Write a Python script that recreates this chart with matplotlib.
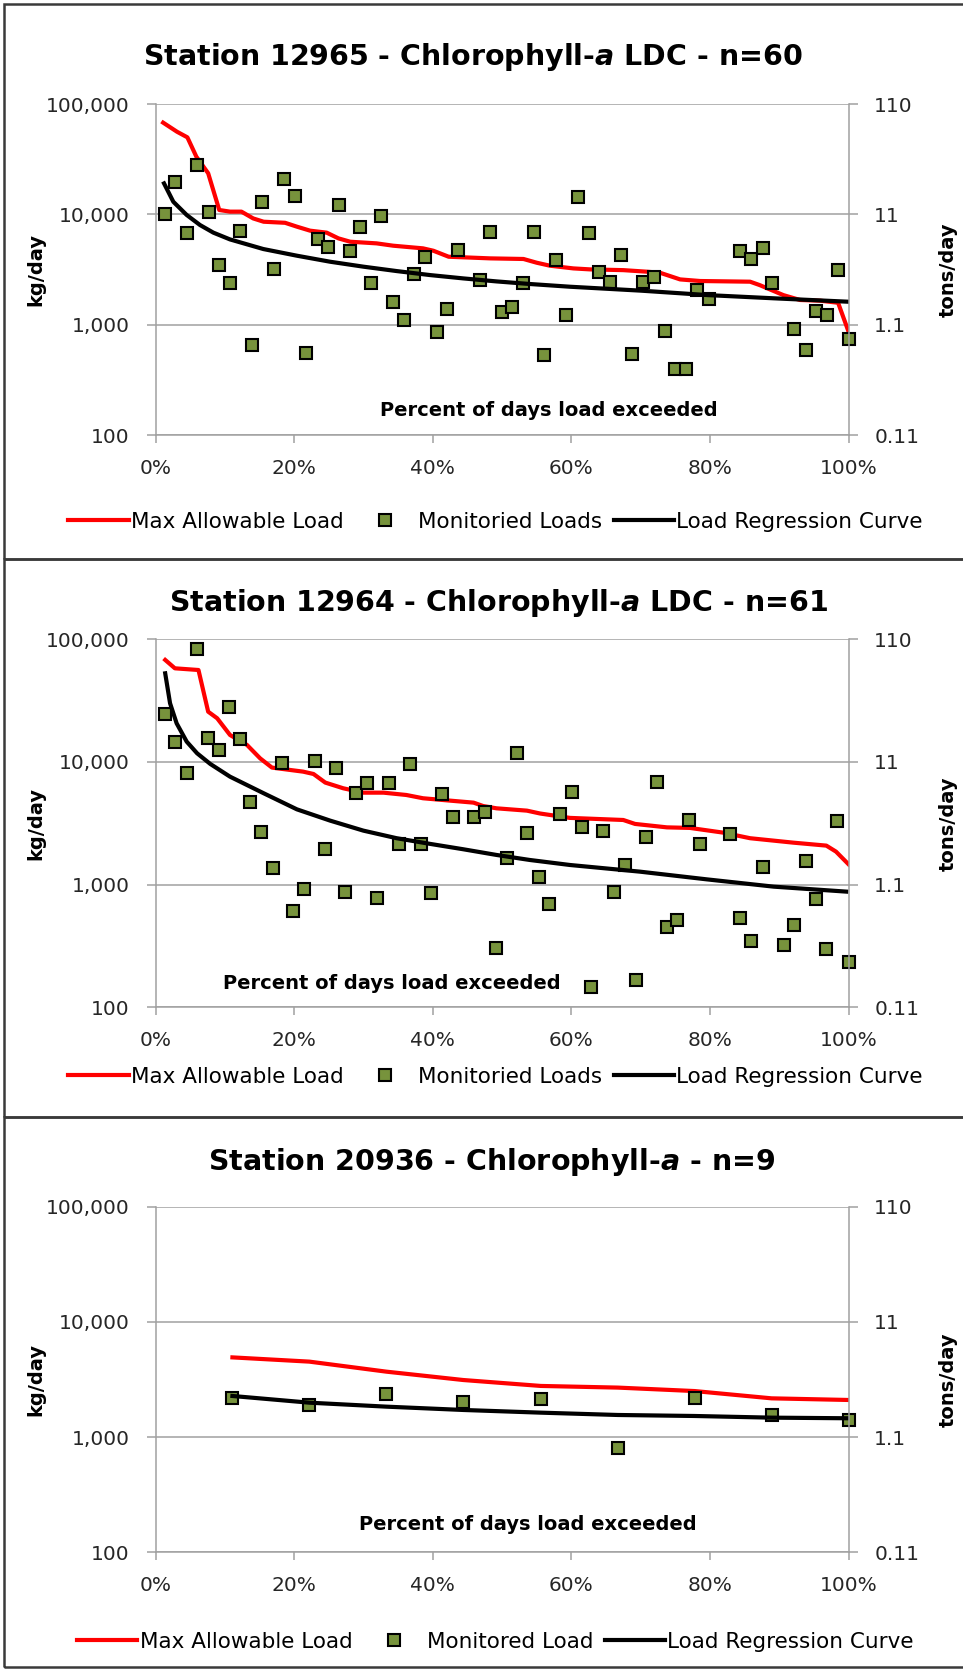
import numpy as np
import matplotlib.pyplot as plt
from matplotlib.patches import Rectangle
from matplotlib.ticker import FixedLocator, NullLocator

plt.rcParams['font.family'] = 'DejaVu Sans'
plt.rcParams['mathtext.fontset'] = 'custom'
plt.rcParams['mathtext.it'] = 'DejaVu Sans:italic:bold'
plt.rcParams['mathtext.rm'] = 'DejaVu Sans:bold'

KG_TO_TONS = 0.00110231

# === Station 12965 (n=60) ===
s1_obs_pct = [1.33, 2.86, 4.5, 6.0, 7.67, 9.1, 10.75, 12.2, 13.97, 15.4,
              17.05, 18.6, 20.2, 21.7, 23.4, 24.9, 26.5, 28.0, 29.5, 31.1,
              32.6, 34.3, 35.8, 37.3, 38.9, 40.6, 42.1, 43.7, 46.8, 48.3,
              49.95, 51.5, 53.1, 54.6, 56.1, 57.8, 59.2, 60.9, 62.5, 64.0,
              65.6, 67.2, 68.7, 70.3, 71.9, 73.5, 74.9, 76.6, 78.1, 79.8,
              84.4, 85.9, 87.6, 89.0, 92.1, 93.8, 95.3, 96.9, 98.5, 100.0]
s1_obs_kg = [10100, 19800, 6730, 28000, 10450, 3480, 2390, 7130, 656, 12850,
             3200, 20900, 14700, 560, 5940, 5100, 12170, 4690, 7750, 2390,
             9600, 1600, 1100, 2880, 4140, 855, 1400, 4790, 2545, 6980,
             1297, 1460, 2375, 6980, 532, 3860, 1220, 14300, 6730, 3030,
             2460, 4310, 543, 2430, 2730, 885, 395, 395, 2065, 1700,
             4660, 3940, 4930, 2410, 917, 592, 1330, 1220, 3135, 738]
s1_max_pct = [1.1, 3.1, 4.6, 5.9, 7.6, 9.2, 10.75, 12.4, 14.1, 15.6, 18.7,
              20.4, 22.3, 24.7, 26.4, 28.1, 31.9, 34.3, 38.6, 40.1, 42.3,
              48.3, 53.1, 55.0, 56.9, 60.3, 62.7, 67.5, 70.9, 72.8, 75.7,
              78.6, 85.8, 87.2, 90.6, 93.0, 95.9, 98.5, 100.0]
s1_max_kg = [67800, 56100, 49900, 33300, 23600, 10970, 10600, 10600, 9200,
             8590, 8400, 7750, 7130, 6840, 6070, 5660, 5470, 5210, 4930, 4690,
             4140, 4000, 3950, 3655, 3435, 3245, 3180, 3130, 3030, 2965, 2580,
             2495, 2460, 2290, 1860, 1680, 1656, 1585, 870]
s1_reg_pct = [1.23, 2.57, 4.5, 6.42, 8.35, 10.75, 15.56, 20.4, 25.2, 30.0,
              34.8, 39.6, 44.4, 49.2, 54.0, 59.8, 70.1, 79.7, 89.2, 100.0]
s1_reg_kg = [19100, 13030, 9890, 8020, 6840, 5940, 4860, 4230, 3730, 3365,
             3070, 2825, 2635, 2475, 2345, 2215, 2040, 1860, 1740, 1620]

# === Station 12964 (n=61) ===
s2_obs_pct = [1.32, 2.86, 4.5, 6.0, 7.6, 9.1, 10.6, 12.2, 13.7, 15.2,
              16.9, 18.3, 19.8, 21.4, 23.0, 24.4, 26.0, 27.4, 29.0, 30.5,
              32.0, 33.7, 35.2, 36.7, 38.3, 39.8, 41.3, 42.9, 46.0, 47.6,
              49.1, 50.7, 52.1, 53.6, 55.3, 56.8, 58.3, 60.05, 61.5, 62.9,
              64.6, 66.1, 67.8, 69.3, 70.8, 72.3, 73.8, 75.3, 77.0, 78.5,
              82.9, 84.3, 86.0, 87.6, 90.7, 92.1, 93.8, 95.3, 96.8, 98.4, 100.0]
s2_obs_kg = [24500, 14650, 8090, 82800, 15600, 12530, 28260, 15500, 4750, 2670,
             1358, 9750, 614, 927, 10250, 1940, 8880, 871, 5620, 6700,
             783, 6790, 2130, 9580, 2130, 861, 5480, 3540, 3540, 3890,
             303, 1660, 11910, 2620, 1148, 692, 3745, 5730, 2970, 147,
             2740, 877, 1445, 167, 2460, 6920, 449, 515, 3365, 2130,
             2590, 532, 349, 1384, 322, 469, 1571, 759, 297, 3300, 233]
s2_max_pct = [1.4, 2.8, 6.2, 7.6, 8.9, 10.75, 13.2, 15.1, 16.8, 19.4, 21.3,
              22.8, 24.5, 27.1, 30.0, 32.9, 36.2, 38.6, 42.5, 45.9, 47.3, 49.2,
              53.6, 55.5, 59.8, 67.5, 69.2, 73.8, 77.1, 81.9, 85.8, 92.0, 96.8,
              98.2, 100.0]
s2_max_kg = [67900, 58000, 56200, 25700, 22700, 16600, 13770, 10700, 9000,
             8610, 8340, 7980, 6790, 6100, 5620, 5620, 5380, 5060, 4840, 4660,
             4370, 4190, 4010, 3800, 3500, 3365, 3125, 2930, 2900, 2655, 2390,
             2200, 2080, 1858, 1466]
s2_reg_pct = [1.4, 2.1, 3.05, 4.5, 6.0, 7.9, 10.75, 15.6, 20.4, 25.2, 30.0,
              34.8, 39.6, 44.4, 49.2, 54.0, 59.8, 69.9, 79.5, 89.2, 99.7]
s2_reg_kg = [52800, 30100, 20650, 14650, 11770, 9640, 7590, 5560, 4110, 3325,
             2755, 2390, 2150, 1943, 1746, 1589, 1446, 1276, 1105, 963, 877]

# === Station 20936 (n=9) ===
s3_pct = [11.1, 22.2, 33.3, 44.4, 55.6, 66.7, 77.8, 88.9, 100.0]
s3_obs_kg = [2170, 1900, 2365, 2005, 2130, 800, 2170, 1556, 1410]
s3_max_kg = [4920, 4520, 3700, 3130, 2780, 2690, 2510, 2170, 2100]
s3_reg_kg = [2275, 1990, 1838, 1720, 1630, 1556, 1525, 1475, 1457]

x_ticks = [0, 20, 40, 60, 80, 100]
x_tick_labels = ['0%', '20%', '40%', '60%', '80%', '100%']
y_ticks = [100, 1000, 10000, 100000]
y_tick_labels = ['100', '1,000', '10,000', '100,000']
ton_tick_labels = ['0.11', '1.1', '11', '110']

W, H = 963, 1669
GRID = '#a0a0a0'
TXT = '#262626'


def draw_panel(top, bottom, title, title_x, title_y, text_xy, legend_y,
               obs, maxl, reg, obs_label):
    ax = fig.add_axes([155.5 / W, 1 - bottom / H, 693 / W, (bottom - top) / H])
    ax.plot(maxl[0], maxl[1], color='#ff0000', lw=3, zorder=3,
            label='Max Allowable Load')
    ax.plot(obs[0], obs[1], ls='none', marker='s', ms=8.8, mfc='#77933c',
            mec='black', mew=1.5, zorder=4, clip_on=False, label=obs_label)
    ax.plot(reg[0], reg[1], color='black', lw=3, zorder=5,
            label='Load Regression Curve')

    ax.set_yscale('log')
    ax.set_ylim(100, 100000)
    ax.set_xlim(0, 100)
    ax.yaxis.set_major_locator(FixedLocator(y_ticks))
    ax.yaxis.set_minor_locator(NullLocator())
    ax.set_yticklabels(y_tick_labels)
    ax.xaxis.set_major_locator(FixedLocator(x_ticks))
    ax.set_xticklabels(x_tick_labels)
    ax.grid(axis='y', color=GRID, lw=1.1)
    ax.set_axisbelow(True)
    for s in ['top', 'right']:
        ax.spines[s].set_visible(False)
    for s in ['left', 'bottom']:
        ax.spines[s].set_color(GRID)
        ax.spines[s].set_linewidth(1.1)
    ax.tick_params(axis='y', direction='out', length=6.5, width=1.1,
                   color=GRID, pad=12, labelsize=14.5, labelcolor=TXT)
    ax.tick_params(axis='x', direction='out', length=6, width=1.1,
                   color=GRID, pad=11, labelsize=14.5, labelcolor=TXT)
    ax.set_ylabel('kg/day', fontsize=14, fontweight='bold')
    ax.yaxis.set_label_coords(-0.159, 0.5)
    ax.text(text_xy[0], text_xy[1], 'Percent of days load exceeded',
            transform=ax.transAxes, ha='center', va='center',
            fontsize=14, fontweight='bold')

    ax2 = ax.twinx()
    ax2.set_yscale('log')
    ax2.set_ylim(100 * KG_TO_TONS, 100000 * KG_TO_TONS)
    ax2.yaxis.set_major_locator(FixedLocator([v * KG_TO_TONS for v in y_ticks]))
    ax2.yaxis.set_minor_locator(NullLocator())
    ax2.set_yticklabels(ton_tick_labels)
    for s in ['top', 'left', 'bottom']:
        ax2.spines[s].set_visible(False)
    ax2.spines['right'].set_color(GRID)
    ax2.spines['right'].set_linewidth(1.1)
    ax2.tick_params(axis='y', direction='out', length=6.5, width=1.1,
                    color=GRID, pad=12, labelsize=14.5, labelcolor=TXT)
    ax2.set_ylabel('tons/day', fontsize=14, fontweight='bold')
    ax2.yaxis.set_label_coords(1.13, 0.5)

    fig.text(title_x / W, 1 - title_y / H, title, ha='center', va='center',
             fontsize=20.5, fontweight='bold')
    handles, labels = ax.get_legend_handles_labels()
    fig.legend(handles, labels, loc='center', ncol=3,
               bbox_to_anchor=(495.5 / W, 1 - legend_y / H), frameon=False,
               fontsize=15.5, handlelength=2.8, handletextpad=0.1,
               columnspacing=0.55, borderaxespad=0, borderpad=0)


fig = plt.figure(figsize=(W / 100, H / 100), dpi=100)

# panel frames
for y0, y1 in [(4, 559), (559, 1117), (1117, 1667)]:
    fig.add_artist(Rectangle((4 / W, 1 - y1 / H), 1.0, (y1 - y0) / H,
                             transform=fig.transFigure, fill=False,
                             edgecolor='#3a3a3a', lw=1.8))

draw_panel(104, 435.3, r'Station 12965 - Chlorophyll-$a$ LDC - n=60',
           473, 57, (0.567, 0.076), 521.5,
           (s1_obs_pct, s1_obs_kg), (s1_max_pct, s1_max_kg),
           (s1_reg_pct, s1_reg_kg), 'Monitoried Loads')
draw_panel(639.3, 1007.3, r'Station 12964 - Chlorophyll-$a$ LDC - n=61',
           498.5, 603, (0.341, 0.066), 1077,
           (s2_obs_pct, s2_obs_kg), (s2_max_pct, s2_max_kg),
           (s2_reg_pct, s2_reg_kg), 'Monitoried Loads')
draw_panel(1206.7, 1552.3, r'Station 20936 - Chlorophyll-$a$ - n=9',
           491.5, 1162, (0.537, 0.08), 1642,
           (s3_pct, s3_obs_kg), (s3_pct, s3_max_kg),
           (s3_pct, s3_reg_kg), 'Monitored Load')

fig.savefig('out.png', dpi=100)
